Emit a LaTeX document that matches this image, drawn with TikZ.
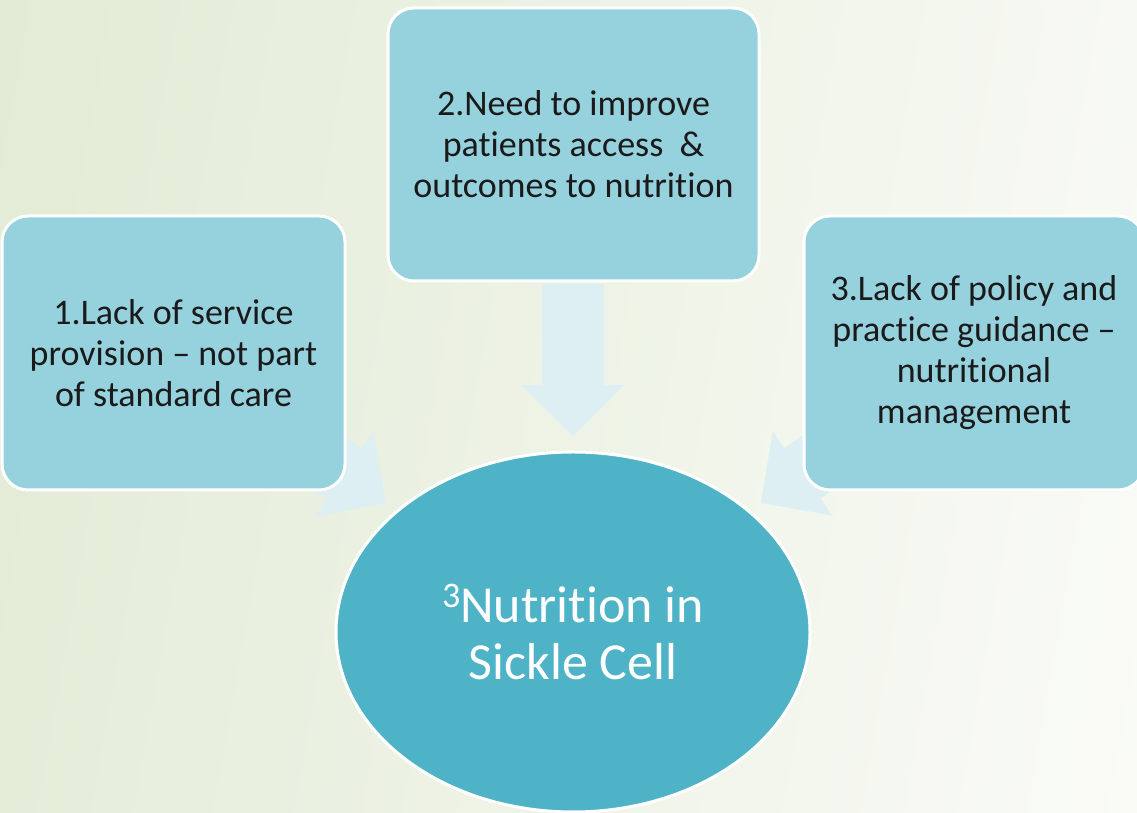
\documentclass[tikz,border=0pt]{standalone}
\usepackage{fontspec}
\setmainfont{Carlito}[Ligatures=NoCommon]
\usetikzlibrary{shapes.geometric}
\definecolor{bgleft}{HTML}{E2EBD5}
\definecolor{bgright}{HTML}{FAFBF7}
\definecolor{boxfill}{HTML}{96D1DE}
\definecolor{hubfill}{HTML}{4FB3C8}
\definecolor{arrowfill}{HTML}{DDEFF3}
\definecolor{ink}{HTML}{1A1A1A}
\tikzset{
  topic/.style={draw=white, line width=3pt, fill=boxfill, rounded corners=26pt,
    text=ink, align=center, inner sep=0pt,
    font=\fontsize{36}{41}\selectfont},
  hub/.style={ellipse, draw=white, line width=3pt, fill=hubfill, text=white,
    align=center, inner sep=0pt, minimum width=474pt, minimum height=360pt,
    font=\fontsize{52}{57}\selectfont},
}
% block arrow: tip at (#1,#2), pointing in direction #3
\newcommand\blockarrow[3]{%
  \begin{scope}[shift={(#1,#2)}, rotate=#3]
    \fill[arrowfill] (0,0) -- (-51,51.5) -- (-51,31) -- (-152,31)
      -- (-152,-31) -- (-51,-31) -- (-51,-51.5) -- cycle;
  \end{scope}}
\begin{document}
\begin{tikzpicture}[x=1pt, y=1pt]
  \useasboundingbox (0,0) rectangle (1137,813);
  \clip (0,0) rectangle (1137,813);
  \shade[shading=axis, left color=bgleft, right color=bgright, shading angle=80]
    (-100,-100) rectangle (1237,913);

  % block arrows pointing towards the hub
  \blockarrow{573}{377}{-90}
  \blockarrow{386}{310}{-34.6}
  \blockarrow{761}{310}{-144.6}

  \node[topic, minimum width=343pt, minimum height=274pt] (lack) at (173.5,460)
    {1.Lack of service\\provision -- not part\\of standard care};
  \node[topic, minimum width=371pt, minimum height=273pt] (need) at (573.5,668.5)
    {2.Need to improve\\patients access~~\&\\outcomes to nutrition};
  \node[topic, minimum width=340pt, minimum height=274pt] (policy) at (974,460)
    {3.Lack of policy and\\practice guidance --\\nutritional\\management};

  \node[hub] (hub) at (573,181)
    {{\fontsize{36}{36}\selectfont\raisebox{0.42em}{3}}Nutrition in\\Sickle Cell};
\end{tikzpicture}
\end{document}
